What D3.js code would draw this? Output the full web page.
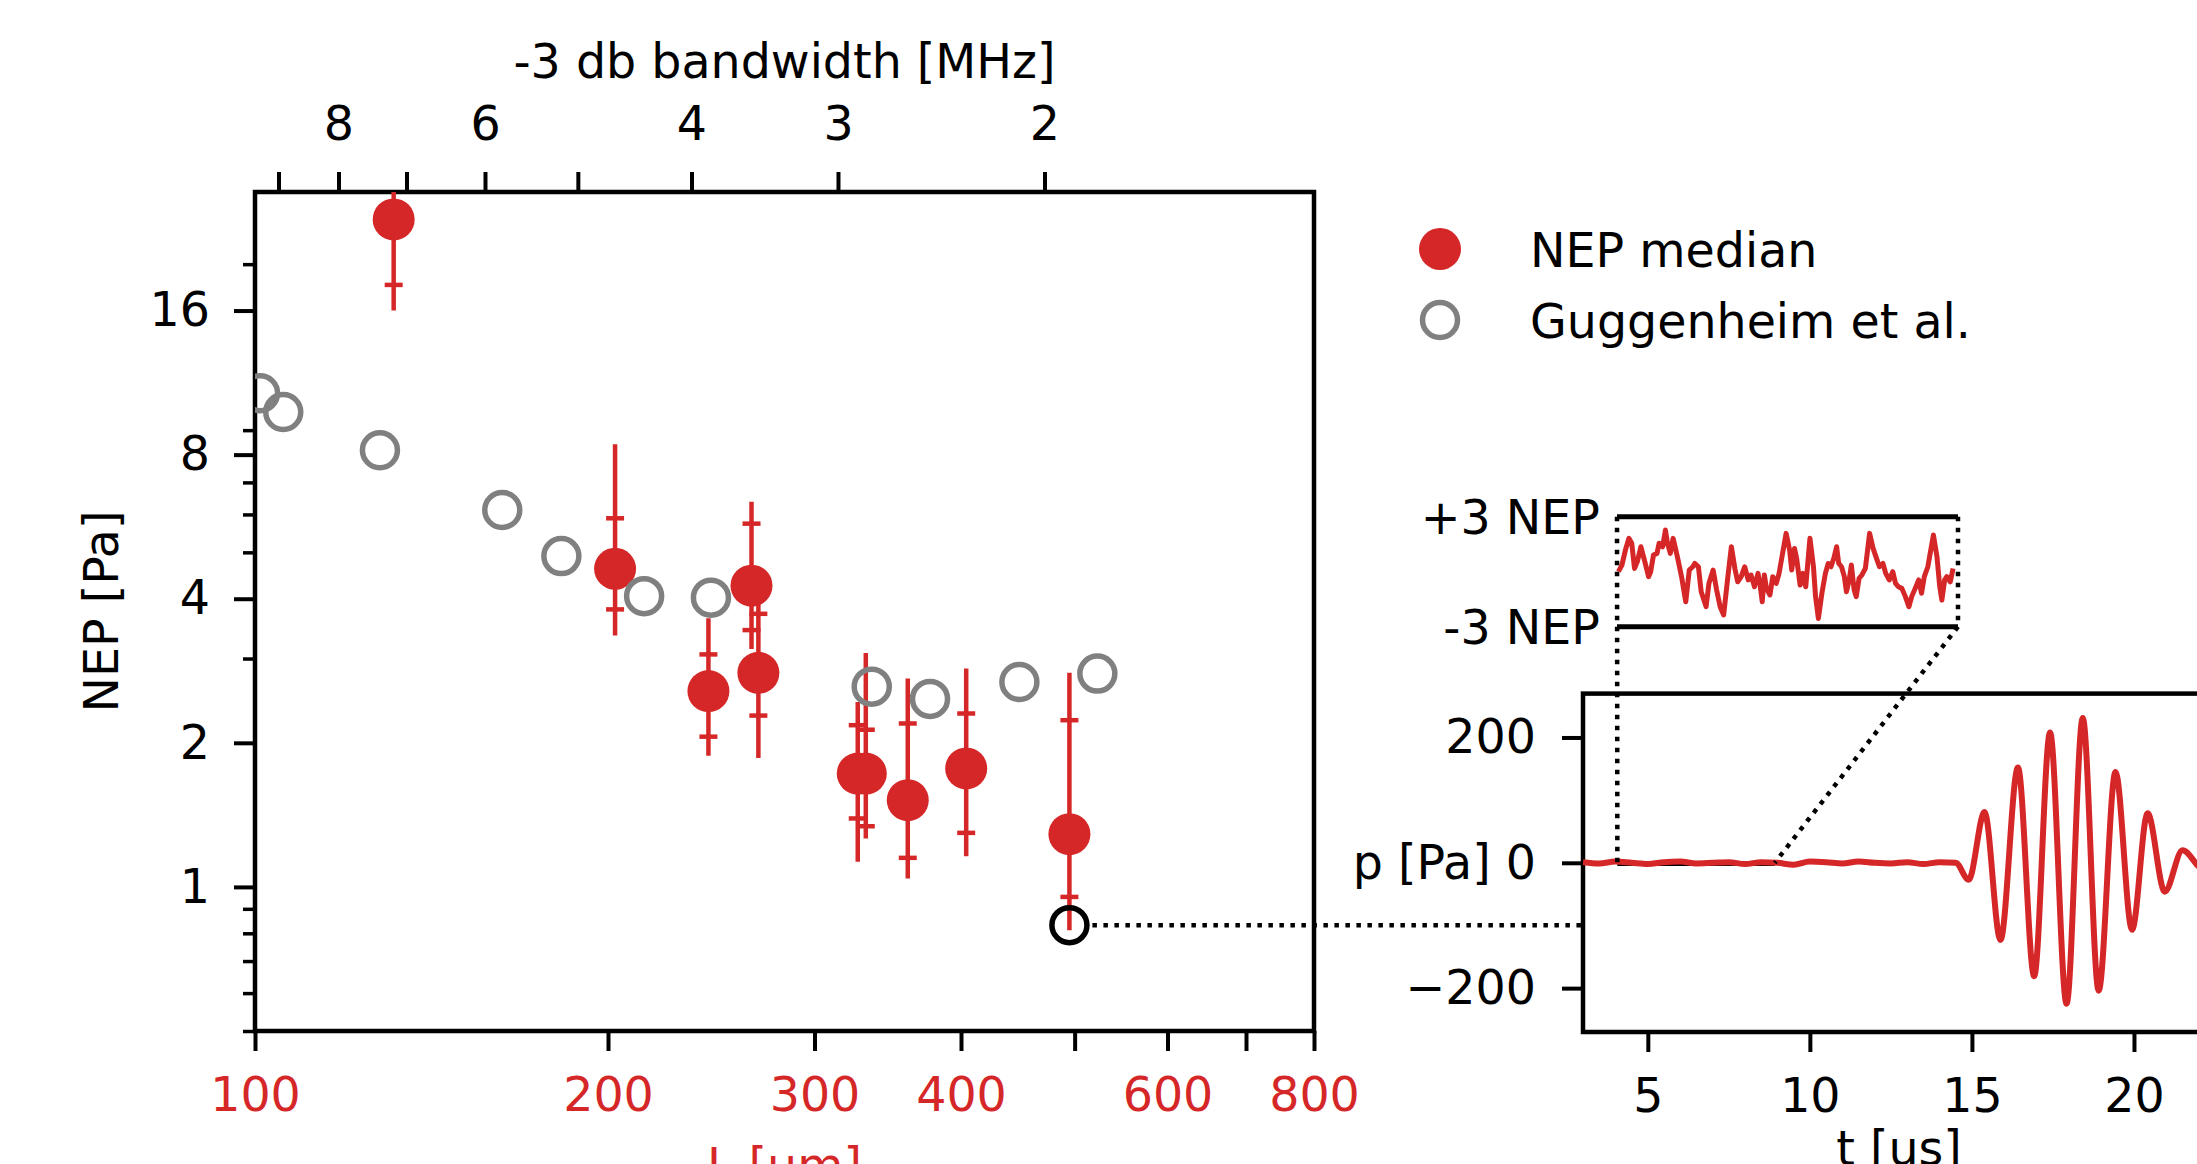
<!DOCTYPE html>
<html>
<head>
<meta charset="utf-8">
<script src="https://cdn.jsdelivr.net/npm/d3@7"></script>
<style>
  body { margin: 0; background: #fff; }
  text { font-family: "DejaVu Sans", sans-serif; }
</style>
</head>
<body>
<script>
// NEP vs element length, with a recorded pressure trace as inset

var red = "#d62728",
    gray = "#808080";

// NEP median per element length L [um], with error bar ends
var lengthUm   = [131.3, 202.8, 243.6, 265.1, 268.7, 326.6, 331.8, 360.3, 404.1, 494.9];
var nepMedian  = [24.8, 4.62, 2.565, 4.26, 2.80, 1.725, 1.725, 1.518, 1.768, 1.289];
var nepCapLow  = [18.1, 3.80, 2.06, 3.44, 2.28, 1.39, 1.339, 1.15, 1.297, 0.953];
var nepCapHigh = [34.0, 5.89, 3.06, 5.74, 3.72, 2.177, 2.13, 2.195, 2.303, 2.23];
var nepLow     = [16.0, 3.35, 1.88, 3.14, 1.86, 1.128, 1.262, 1.041, 1.159, 0.812];
var nepHigh    = [40.0, 8.41, 3.64, 6.38, 4.17, 2.435, 3.08, 2.725, 2.86, 2.80];

// Guggenheim et al.
var guggL   = [101.0, 105.7, 127.8, 162.5, 182.5, 214.7, 244.8, 335.7, 376.4, 448.6, 522.8];
var guggNep = [10.75, 9.82, 8.17, 6.13, 4.91, 4.05, 4.02, 2.62, 2.47, 2.68, 2.79];

// highlighted sensor (trace shown on the right)
var pickL = 494.9, pickNep = 0.832;

// axis ticks
var xTicks = [100, 200, 300, 400, 500, 600, 700, 800];
var xLabels = [100, 200, 300, 400, 600, 800];
var yTicks = [1, 2, 4, 8, 16];
var yMinor = [0.5, 0.6, 0.7, 0.8, 0.9, 3, 5, 6, 7, 9, 20];
var bwTicks = [2, 3, 4, 5, 6, 7, 8, 9];
var bwLabels = [2, 3, 4, 6, 8];
var bwFactor = 942.5; // bandwidth [MHz] = bwFactor / L [um]

// pressure trace
var waveT = [3.0, 3.5, 4.0, 4.5, 5.0, 5.5, 6.0, 6.5, 7.0, 7.5, 8.0, 8.5, 9.0, 9.5, 10.0, 10.5, 11.0, 11.5,
             12.0, 12.5, 13.0, 13.5, 14.0, 14.5, 14.9, 15.39, 15.88, 16.42, 16.92, 17.41, 17.92, 18.42,
             18.91, 19.43, 19.94, 20.42, 20.95, 21.5, 22.0, 22.4];
var waveP = [1, -1, 2, 0, -2, 1, 2, -1, 0, 1, -2, 1, 0, -3, 2, 1, -1, 2,
             0, -1, 1, -2, 1, 0, -27, 81, -123, 152, -181, 208, -225, 231,
             -204, 145, -107, 79, -46, 20, -6, -22];
var waveTicksX = [5, 10, 15, 20];
var waveTicksY = [-200, 0, 200];
var zoomT = [4.06, 8.92];

// zoomed noise, in units of NEP
var noiseT = [4.08,4.13,4.18,4.23,4.27,4.31,4.35,4.40,4.45,4.51,4.54,4.58,4.63,4.66,4.71,4.75,4.78,4.82,4.86,4.92,
              4.98,5.04,5.09,5.14,5.17,5.22,5.26,5.33,5.37,5.43,5.48,5.53,5.58,5.64,5.69,5.74,5.78,5.83,5.88,5.93,
              5.97,6.02,6.07,6.10,6.13,6.16,6.19,6.24,6.28,6.33,6.37,6.42,6.47,6.52,6.55,6.59,6.62,6.67,6.71,6.75,
              6.81,6.86,6.89,6.93,6.98,7.03,7.07,7.11,7.15,7.19,7.22,7.26,7.30,7.33,7.37,7.40,7.44,7.47,7.51,7.55,
              7.60,7.66,7.71,7.75,7.80,7.85,7.89,7.94,7.99,8.03,8.07,8.12,8.17,8.22,8.26,8.31,8.36,8.40,8.44,8.49,
              8.57,8.62,8.66,8.69,8.73,8.76,8.81,8.85];
var noiseV = [0.0,0.36,1.18,1.82,1.55,0.18,0.55,1.36,0.64,-0.27,0.0,0.91,1.0,1.55,1.36,2.27,1.55,1.0,1.82,0.82,
              -0.27,-1.64,0.09,0.27,0.45,0.27,-1.09,-1.91,-0.64,0.09,-1.0,-1.91,-2.36,-0.27,1.36,0.18,-0.55,-0.27,0.27,-0.45,
              -0.18,-0.82,-0.09,-0.73,-1.64,-0.18,-0.91,-1.27,-0.27,-0.64,-0.09,1.0,2.09,1.18,0.09,1.27,0.73,-0.73,-0.09,-0.82,
              1.82,0.27,-1.36,-2.55,-1.18,-0.09,0.45,0.27,0.73,1.36,0.45,0.27,-0.27,-1.09,-0.45,0.36,-1.0,-1.36,-0.36,-0.18,
              0.18,2.09,1.27,0.82,0.27,0.45,-0.09,-0.45,0.0,-0.64,-0.82,-0.91,-1.36,-1.91,-1.36,-0.91,-0.45,-1.18,-0.27,0.27,
              2.0,0.82,-0.82,-1.55,-0.45,-0.27,-0.55,0.18];

var W = 2197, H = 1164, fs = 47.5;
var spineW = 4.5, tickW = 4;

var svg = d3.select("body").append("svg")
    .attr("width", W)
    .attr("height", H);

svg.append("rect").attr("width", W).attr("height", H).attr("fill", "#fff");

// ---------- main plot ----------
var x = d3.scaleLog().domain([100, 800]).range([255, 1314]);
var y = d3.scaleLog().domain([0.5, 28.3]).range([1031, 192]);

svg.append("clipPath").attr("id", "mainClip")
  .append("rect")
    .attr("x", x.range()[0]).attr("y", y.range()[1])
    .attr("width", x.range()[1] - x.range()[0])
    .attr("height", y.range()[0] - y.range()[1]);

function styleAxis(g, color, width) {
  g.select(".domain").remove();
  g.selectAll(".tick line").attr("stroke", "#000").attr("stroke-width", width);
  g.selectAll(".tick text")
    .attr("fill", color)
    .style("font-size", fs + "px")
    .style("font-family", "DejaVu Sans");
}

// bottom axis (L)
svg.append("g")
  .attr("transform", "translate(0," + y.range()[0] + ")")
  .call(d3.axisBottom(x).tickValues(xTicks).tickSize(20).tickPadding(26)
        .tickFormat(function(d) { return xLabels.indexOf(d) >= 0 ? d : ""; }))
  .call(styleAxis, red, tickW);

// left axis, major + minor
svg.append("g")
  .attr("transform", "translate(" + x.range()[0] + ",0)")
  .call(d3.axisLeft(y).tickValues(yTicks).tickSize(21).tickPadding(24).tickFormat(d3.format("d")))
  .call(styleAxis, "#000", tickW);

svg.append("g")
  .attr("transform", "translate(" + x.range()[0] + ",0)")
  .call(d3.axisLeft(y).tickValues(yMinor).tickSize(12).tickFormat(""))
  .call(styleAxis, "#000", 3.5);

// top axis (bandwidth)
svg.append("g")
  .attr("transform", "translate(0," + y.range()[1] + ")")
  .call(d3.axisTop(x).tickValues(bwTicks.map(function(f) { return bwFactor / f; }))
        .tickSize(20).tickPadding(32)
        .tickFormat(function(d) {
          var f = Math.round(bwFactor / d);
          return bwLabels.indexOf(f) >= 0 ? f : "";
        }))
  .call(styleAxis, "#000", tickW);

// frame
svg.append("rect")
  .attr("x", x.range()[0]).attr("y", y.range()[1])
  .attr("width", x.range()[1] - x.range()[0])
  .attr("height", y.range()[0] - y.range()[1])
  .attr("fill", "none").attr("stroke", "#000").attr("stroke-width", spineW);

// axis titles
svg.append("text")
  .attr("x", (x.range()[0] + x.range()[1]) / 2).attr("y", 78)
  .attr("text-anchor", "middle").style("font-size", fs + "px")
  .text("-3 db bandwidth [MHz]");

svg.append("text")
  .attr("transform", "translate(118," + (y.range()[0] + y.range()[1]) / 2 + ") rotate(-90)")
  .attr("text-anchor", "middle").style("font-size", fs + "px")
  .text("NEP [Pa]");

svg.append("text")
  .attr("x", (x.range()[0] + x.range()[1]) / 2).attr("y", 1182)
  .attr("text-anchor", "middle").attr("fill", red).style("font-size", fs + "px")
  .text("L [um]");

var plot = svg.append("g").attr("clip-path", "url(#mainClip)");

// error bars: long whisker + capped inner bar
var idx = d3.range(lengthUm.length);
plot.selectAll(".whisker").data(idx).enter().append("line")
  .attr("x1", function(i) { return x(lengthUm[i]); })
  .attr("x2", function(i) { return x(lengthUm[i]); })
  .attr("y1", function(i) { return y(nepLow[i]); })
  .attr("y2", function(i) { return y(nepHigh[i]); })
  .attr("stroke", red).attr("stroke-width", 4.5);

plot.selectAll(".cap").data(idx.concat(idx)).enter().append("line")
  .attr("x1", function(i) { return x(lengthUm[i]) - 9; })
  .attr("x2", function(i) { return x(lengthUm[i]) + 9; })
  .attr("y1", function(i, k) { return y(k < idx.length ? nepCapLow[i] : nepCapHigh[i]); })
  .attr("y2", function(i, k) { return y(k < idx.length ? nepCapLow[i] : nepCapHigh[i]); })
  .attr("stroke", red).attr("stroke-width", 4.5);

plot.selectAll(".med").data(idx).enter().append("circle")
  .attr("cx", function(i) { return x(lengthUm[i]); })
  .attr("cy", function(i) { return y(nepMedian[i]); })
  .attr("r", 21)
  .attr("fill", red);

plot.selectAll(".gugg").data(guggL).enter().append("circle")
  .attr("cx", function(d) { return x(d); })
  .attr("cy", function(d, i) { return y(guggNep[i]); })
  .attr("r", 17.5)
  .attr("fill", "none").attr("stroke", gray).attr("stroke-width", 5.5);

plot.append("circle")
  .attr("cx", x(pickL)).attr("cy", y(pickNep)).attr("r", 17.5)
  .attr("fill", "none").attr("stroke", "#000").attr("stroke-width", 5.5);

// legend
var legend = [{label: "NEP median", filled: true}, {label: "Guggenheim et al.", filled: false}];
legend.forEach(function(d, i) {
  var cy = 249 + i * 71;
  svg.append("circle")
    .attr("cx", 1440).attr("cy", cy)
    .attr("r", d.filled ? 21 : 17.5)
    .attr("fill", d.filled ? red : "none")
    .attr("stroke", d.filled ? "none" : gray)
    .attr("stroke-width", 5.5);
  svg.append("text")
    .attr("x", 1530).attr("y", cy + 18)
    .style("font-size", fs + "px")
    .text(d.label);
});

// ---------- pressure trace ----------
var xw = d3.scaleLinear().domain([3, 22.5]).range([1583, 2215]);
var yw = d3.scaleLinear().domain([-270, 270]).range([1032, 693.6]);

svg.append("clipPath").attr("id", "waveClip")
  .append("rect")
    .attr("x", xw.range()[0]).attr("y", yw.range()[1])
    .attr("width", xw.range()[1] - xw.range()[0])
    .attr("height", yw.range()[0] - yw.range()[1]);

svg.append("g")
  .attr("transform", "translate(0," + yw.range()[0] + ")")
  .call(d3.axisBottom(xw).tickValues(waveTicksX).tickSize(20).tickPadding(26))
  .call(styleAxis, "#000", tickW);

svg.append("g")
  .attr("transform", "translate(" + xw.range()[0] + ",0)")
  .call(d3.axisLeft(yw).tickValues(waveTicksY).tickSize(21).tickPadding(26)
        .tickFormat(function(d) { return d === 0 ? "p [Pa] 0" : (d < 0 ? "\u2212" + (-d) : d); }))
  .call(styleAxis, "#000", tickW);

svg.append("text")
  .attr("x", (xw.range()[0] + xw.range()[1]) / 2).attr("y", 1165)
  .attr("text-anchor", "middle").style("font-size", fs + "px")
  .text("t [us]");

svg.append("rect")
  .attr("x", xw.range()[0]).attr("y", yw.range()[1])
  .attr("width", xw.range()[1] - xw.range()[0])
  .attr("height", yw.range()[0] - yw.range()[1])
  .attr("fill", "none").attr("stroke", "#000").attr("stroke-width", spineW);

// marker of the zoomed segment
svg.append("line")
  .attr("x1", xw(zoomT[0])).attr("x2", xw(zoomT[1]))
  .attr("y1", yw(-2)).attr("y2", yw(-2))
  .attr("stroke", "#000").attr("stroke-width", 4);

var waveLine = d3.line()
  .x(function(d, i) { return xw(waveT[i]); })
  .y(function(d) { return yw(d); })
  .curve(d3.curveMonotoneX);

svg.append("path")
  .attr("clip-path", "url(#waveClip)")
  .attr("d", waveLine(waveP))
  .attr("fill", "none").attr("stroke", red).attr("stroke-width", 6)
  .attr("stroke-linejoin", "round");

// ---------- zoomed noise ----------
var xn = d3.scaleLinear().domain(zoomT).range([1617, 1958]);
var yn = d3.scaleLinear().domain([-3, 3]).range([626.7, 516.7]);

[3, -3].forEach(function(v) {
  svg.append("line")
    .attr("x1", xn.range()[0]).attr("x2", xn.range()[1])
    .attr("y1", yn(v)).attr("y2", yn(v))
    .attr("stroke", "#000").attr("stroke-width", 5);
  svg.append("text")
    .attr("x", xn.range()[0] - 17).attr("y", yn(v))
    .attr("dy", "0.36em").attr("text-anchor", "end")
    .style("font-size", fs + "px")
    .text((v > 0 ? "+" : "-") + Math.abs(v) + " NEP");
});

var noiseLine = d3.line()
  .x(function(d, i) { return xn(noiseT[i]); })
  .y(function(d) { return yn(d); });

svg.append("path")
  .attr("d", noiseLine(noiseV))
  .attr("fill", "none").attr("stroke", red).attr("stroke-width", 5)
  .attr("stroke-linejoin", "round");

// dotted connectors
var dots = "4.5,6.5";
function dotted(x1, y1, x2, y2) {
  svg.append("line")
    .attr("x1", x1).attr("y1", y1).attr("x2", x2).attr("y2", y2)
    .attr("stroke", "#000").attr("stroke-width", 4.5)
    .attr("stroke-dasharray", dots);
}
dotted(xn.range()[0], yn(3), xw(zoomT[0]), yw(0));
dotted(xn.range()[1], yn(3), xn.range()[1], yn(-3));
dotted(xn.range()[1], yn(-3), xw(zoomT[1]), yw(0));
dotted(x(pickL) + 23, y(pickNep), xw.range()[0], y(pickNep));
</script>
</body>
</html>
